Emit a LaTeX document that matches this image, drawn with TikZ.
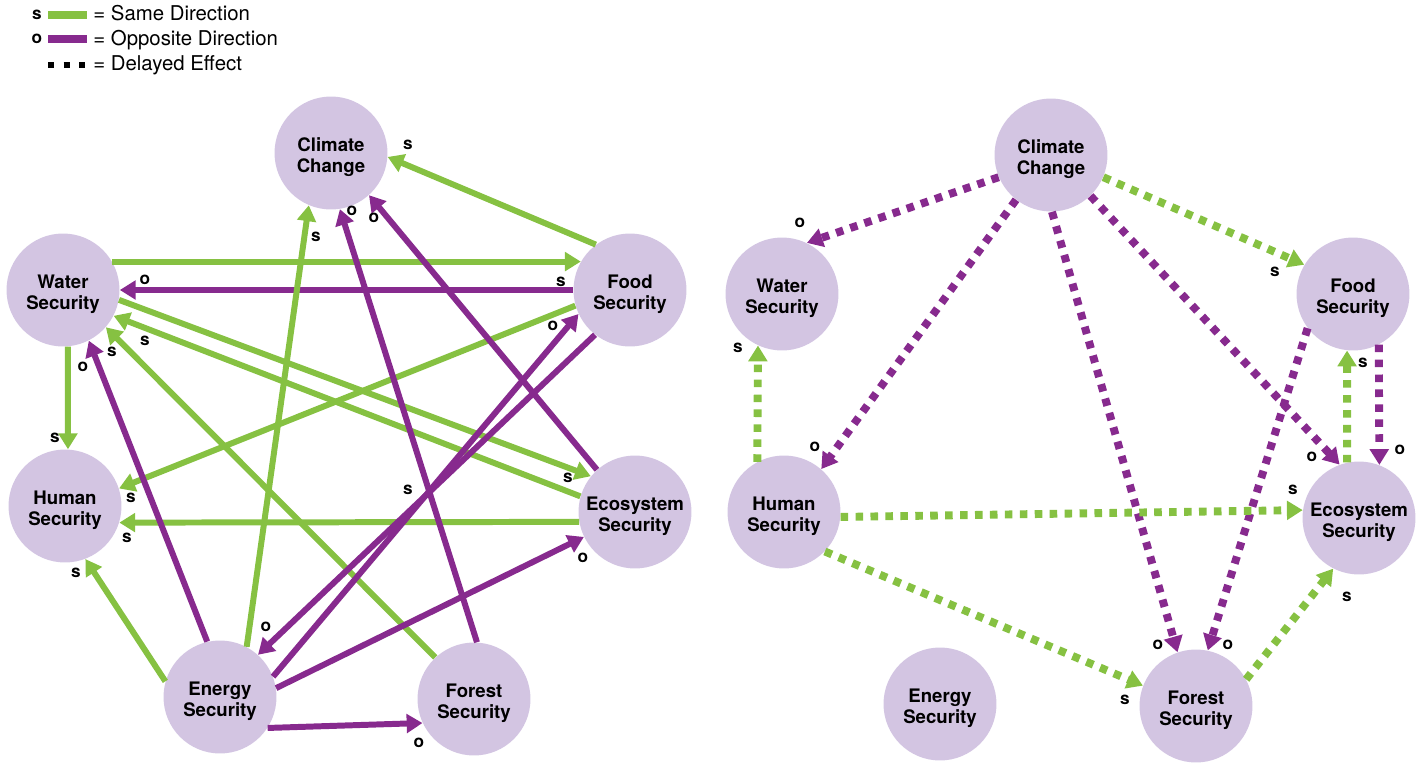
\documentclass[tikz,border=0pt]{standalone}
\usepackage{fontspec}
\setmainfont{TeX Gyre Heros}
\usetikzlibrary{arrows.meta}
\definecolor{sgreen}{RGB}{134,193,66}
\definecolor{opurple}{RGB}{135,42,142}
\definecolor{nodefill}{RGB}{211,197,226}
\begin{document}
\begin{tikzpicture}[x=0.02cm,y=0.02cm,
  nd/.style={circle, fill=nodefill, minimum size=2.26cm, inner sep=0pt, align=center, text height=24.5pt, text depth=2pt, font=\bfseries\fontsize{10.6}{12.3}\selectfont},
  arr/.style={line width=3.4pt, -{Triangle[length=9pt,width=10.5pt]}},
  sg/.style={arr, draw=sgreen},
  op/.style={arr, draw=opurple},
  dl/.style={line width=4.5pt, dash pattern=on 4.3pt off 4.2pt},
  lb/.style={inner sep=0pt, font=\bfseries\fontsize{9.8}{11}\selectfont},
  lg/.style={inner sep=0pt, anchor=base west, font=\fontsize{11.6}{13}\selectfont},
  bar/.style={line width=4.5pt},
  sqdash/.style={line width=3.4pt, dash pattern=on 3.4pt off 5.5pt}]
\useasboundingbox (0,0) rectangle (1418,-764);

% ---------- legend ----------
\node[lb] (ls) at (37,-15) {s};
\coordinate (g1a) at (48,-15); \coordinate (g1b) at (87,-15);
\draw[bar, draw=sgreen] (g1a) -- (g1b);
\node[lg] (lt1) at (93,-20.5) {= Same Direction};
\node[lb] (lo) at (37,-39) {o};
\coordinate (g2a) at (48,-39); \coordinate (g2b) at (87,-39);
\draw[bar, draw=opurple] (g2a) -- (g2b);
\node[lg] (lt2) at (93,-45.5) {= Opposite Direction};
\coordinate (g3a) at (48,-65); \coordinate (g3b) at (86,-65);
\draw[sqdash, draw=black] (g3a) -- (g3b);
\node[lg] (lt3) at (93,-70.5) {= Delayed Effect};

% ---------- left diagram ----------
\node[nd] (cc)  at (331,-153) {Climate\\Change};
\node[nd] (ws)  at (63,-290)  {Water\\Security};
\node[nd] (fs)  at (630,-290) {Food\\Security};
\node[nd] (hs)  at (65,-506)  {Human\\Security};
\node[nd] (es)  at (220,-697) {Energy\\Security};
\node[nd] (ecs) at (635,-512) {Ecosystem\\Security};
\node[nd] (fos) at (474,-699) {Forest\\Security};

\draw[sg] (fs.127) -- (cc.-4);
\draw[sg] (ws.30) -- (fs.150);
\draw[op] (fs.180) -- (ws.0);
\draw[sg] (ws.-85) -- (hs.87);
\draw[sg] (fs.196) -- (hs.18);
\draw[sg] (ecs.190) -- (hs.-17);
\draw[sg] (es.164) -- (hs.-69);
\draw[op] (es.103) -- (ws.-63);
\draw[sg] (fos.133) -- (ws.-41);
\draw[sg] (ecs.164) -- (ws.-27);
\draw[sg] (ws.-10) -- (ecs.141);
\draw[sg] (es.62) -- (cc.247);
\draw[op] (fos.87) -- (cc.-81);
\draw[op] (ecs.132) -- (cc.-48);
\draw[op] (fs.232) -- (es.48);
\draw[op] (es.21) -- (fs.205);
\draw[op] (es.9) -- (ecs.206);
\draw[op] (es.-33) -- (fos.205);

\node[lb] (l1)  at (408,-145) {s};
\node[lb] (l2)  at (316,-237) {s};
\node[lb] (l3)  at (352,-211) {o};
\node[lb] (l4)  at (374,-218) {o};
\node[lb] (l5)  at (145,-280) {o};
\node[lb] (l6)  at (561,-282) {s};
\node[lb] (l7)  at (553,-326) {o};
\node[lb] (l8)  at (55,-438)  {s};
\node[lb] (l9)  at (83,-367)  {o};
\node[lb] (l10) at (112,-352) {s};
\node[lb] (l11) at (145,-341) {s};
\node[lb] (l12) at (131,-498) {s};
\node[lb] (l13) at (127,-538) {s};
\node[lb] (l14) at (76,-573)  {s};
\node[lb] (l15) at (568,-478) {s};
\node[lb] (l16) at (408,-490) {s};
\node[lb] (l17) at (583,-558) {o};
\node[lb] (l18) at (266,-627) {o};
\node[lb] (l19) at (419,-743) {o};

% ---------- right diagram ----------
\node[nd] (cc2)  at (1051,-155) {Climate\\Change};
\node[nd] (ws2)  at (782,-294)  {Water\\Security};
\node[nd] (fs2)  at (1353,-294) {Food\\Security};
\node[nd] (hs2)  at (784,-512)  {Human\\Security};
\node[nd] (es2)  at (940,-704)  {Energy\\Security};
\node[nd] (ecs2) at (1359,-518) {Ecosystem\\Security};
\node[nd] (fos2) at (1196,-706) {Forest\\Security};

\draw[op,dl] (cc2.203) -- (ws2.64);
\draw[op,dl] (cc2.232) -- (hs2.49);
\draw[sg,dl] (cc2.-23) -- (fs2.149);
\draw[op,dl] (cc2.-89) -- (fos2.109);
\draw[op,dl] (cc2.-46) -- (ecs2.110);
\draw[op,dl] (fs2.217) -- (fos2.78);
\draw[sg,dl] (ecs2.102) -- (fs2.-96);
\draw[op,dl] (fs2.-63) -- (ecs2.69);
\draw[sg,dl] (hs2.118) -- (ws2.245);
\draw[sg,dl] (hs2.-5) -- (ecs2.172);
\draw[sg,dl] (hs2.-44) -- (fos2.159);
\draw[sg,dl] (fos2.28) -- (ecs2.243);

\node[lb] (r1)  at (800,-223)  {o};
\node[lb] (r2)  at (815,-447)  {o};
\node[lb] (r3)  at (1275,-272) {s};
\node[lb] (r4)  at (1158,-645) {o};
\node[lb] (r5)  at (1312,-457) {o};
\node[lb] (r6)  at (1228,-645) {o};
\node[lb] (r7)  at (1363,-363) {s};
\node[lb] (r8)  at (1400,-450) {o};
\node[lb] (r9)  at (738,-348)  {s};
\node[lb] (r10) at (1293,-490) {s};
\node[lb] (r11) at (1125,-700) {s};
\node[lb] (r12) at (1347,-597) {s};
\end{tikzpicture}
\end{document}
